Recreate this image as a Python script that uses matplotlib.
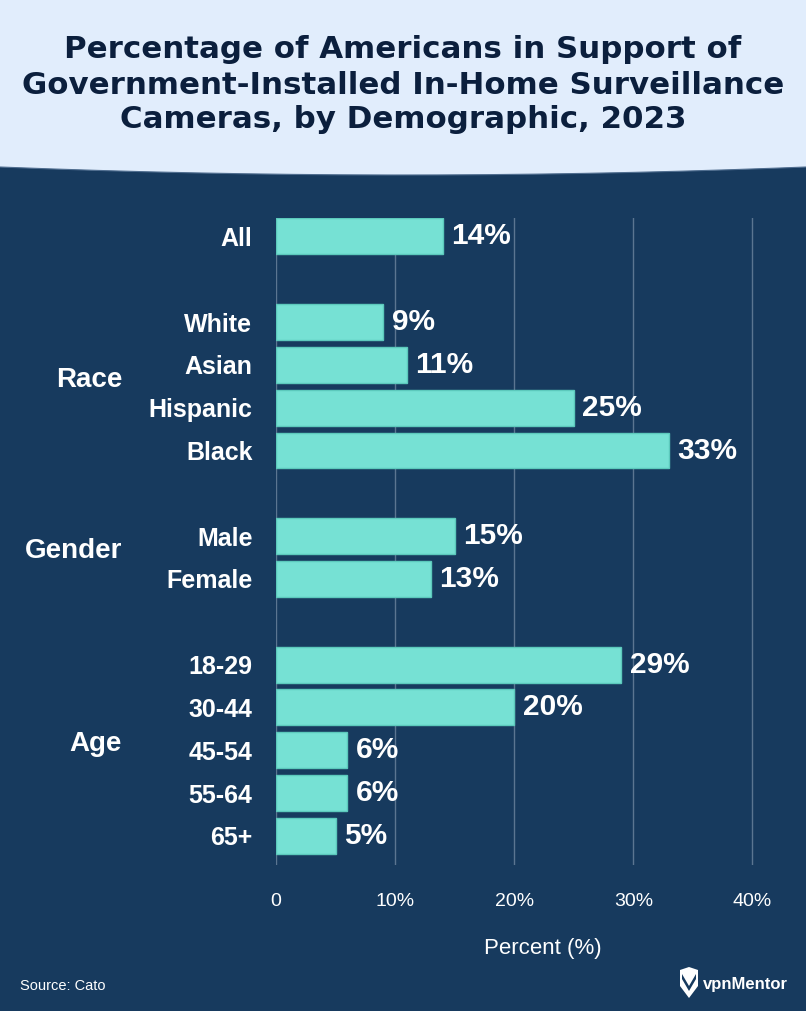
import numpy as np
import matplotlib
matplotlib.use("Agg")
import matplotlib.pyplot as plt
from matplotlib.patches import Polygon
from matplotlib.transforms import blended_transform_factory

# 数据
categories = ["All", "White", "Asian", "Hispanic", "Black", "Male", "Female",
              "18-29", "30-44", "45-54", "55-64", "65+"]
values = [14, 9, 11, 25, 33, 15, 13, 29, 20, 6, 6, 5]
positions = [0, 2, 3, 4, 5, 7, 8, 10, 11, 12, 13, 14]
groups = ["Race", "Gender", "Age"]
group_members = [[1, 2, 3, 4], [5, 6], [7, 8, 9, 10, 11]]
x_ticks = [0, 10, 20, 30, 40]
x_ticklabels = ["0", "10%", "20%", "30%", "40%"]

BG = "#173A5E"
HEADER = "#E1EDFC"
TITLE_C = "#0B1F3D"
BAR = "#76E1D4"
BAR_EDGE = "#5CC9BC"
GRID = "#5B7591"

plt.rcParams['font.family'] = ['Liberation Sans', 'DejaVu Sans']

W, H = 806, 1011
fig = plt.figure(figsize=(W / 100, H / 100), dpi=100, facecolor=BG)


def fx(px):
    return px / W


def fy(py):
    return 1 - py / H


# 标题区（底部弧形）
xs = np.linspace(0, W, 200)
ys = 167 + 8 * (1 - (2 * xs / W - 1) ** 2)
pts = [(fx(-5), fy(-5))] + [(fx(a), fy(b)) for a, b in zip(xs, ys)] + [(fx(W + 5), fy(-5))]
fig.add_artist(Polygon(pts, closed=True, transform=fig.transFigure,
                       facecolor=HEADER, edgecolor="none"))
fig.add_artist(plt.Line2D([fx(a) for a in xs], [fy(b) for b in ys],
                          transform=fig.transFigure, color="#4F6D8F", lw=0.8))

title_lines = ["Percentage of Americans in Support of",
               "Government-Installed In-Home Surveillance",
               "Cameras, by Demographic, 2023"]
for i, line in enumerate(title_lines):
    fig.text(0.5, fy(50 + 35 * i), line, ha="center", va="center",
             fontsize=22.2, fontweight="bold", color=TITLE_C, family="DejaVu Sans")

# 主图
ax = fig.add_axes([fx(276), fy(865), fx(756) - fx(276), fy(218) - fy(865)])
ax.set_facecolor(BG)
ax.barh(positions, values, height=0.84, color=BAR, edgecolor=BAR_EDGE, lw=1, zorder=3)

for p, v in zip(positions, values):
    ax.annotate(f"{v}%", (v, p), xytext=(6, 0), textcoords="offset points",
                ha="left", va="center", fontsize=21.5, fontweight="bold", color="white")

ax.set_xlim(0, 40.3)
ax.set_ylim(14.68, -0.43)
ax.set_xticks(x_ticks)
ax.set_xticklabels(x_ticklabels)
ax.set_yticks(positions)
ax.set_yticklabels(categories, fontsize=18, fontweight="bold")
ax.tick_params(axis="x", length=0, pad=20, labelsize=14, labelcolor="white")
ax.tick_params(axis="y", length=0, pad=17, labelcolor="white")
ax.grid(axis="x", color=GRID, lw=1, zorder=0)
ax.set_axisbelow(True)
for s in ax.spines.values():
    s.set_visible(False)

ax.set_xlabel("Percent (%)", fontsize=16, color="white")
ax.xaxis.set_label_coords((fx(543) - fx(276)) / (fx(756) - fx(276)), -0.113)

trans = blended_transform_factory(fig.transFigure, ax.transData)
for g, members in zip(groups, group_members):
    yc = np.mean([positions[m] for m in members]) - 0.15
    ax.text(fx(122), yc, g, transform=trans, ha="right", va="center",
            fontsize=20, fontweight="bold", color="white")

# 脚注与标志
fig.text(fx(20), fy(986), "Source: Cato", ha="left", va="center", fontsize=10.5, color="white")
fig.text(fx(703), fy(985), "vpnMentor", ha="left", va="center", fontsize=12,
         fontweight="bold", color="white")
shield = [(680, 970), (689, 967), (698, 970), (698, 986), (689, 998), (680, 986)]
fig.add_artist(Polygon([(fx(a), fy(b)) for a, b in shield], closed=True,
                       transform=fig.transFigure, facecolor="white", edgecolor="none"))
vmark = [(682, 974), (689, 986), (696, 974), (696, 979), (689, 991), (682, 979)]
fig.add_artist(Polygon([(fx(a), fy(b)) for a, b in vmark], closed=True,
                       transform=fig.transFigure, facecolor=BG, edgecolor="none"))

fig.savefig("out.png", dpi=100, facecolor=BG)
